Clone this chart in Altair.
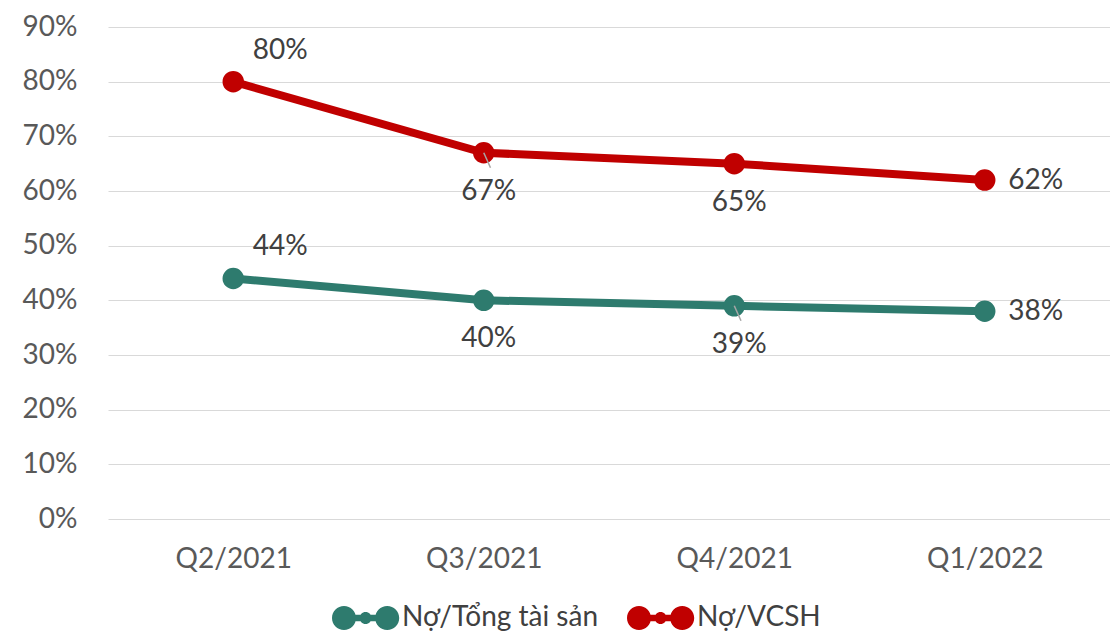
import altair as alt
import pandas as pd

categories = ["Q2/2021", "Q3/2021", "Q4/2021", "Q1/2022"]
series_names = ["Nợ/Tổng tài sản", "Nợ/VCSH"]
no_tong_tai_san = [0.44, 0.40, 0.39, 0.38]
no_vcsh = [0.80, 0.67, 0.65, 0.62]
colors = ["#2E7B6E", "#C00000"]

rows = []
for name, vals in zip(series_names, [no_tong_tai_san, no_vcsh]):
    for c, v in zip(categories, vals):
        rows.append({"quarter": c, "series": name, "value": v})
df = pd.DataFrame(rows)

FONT = "Lato"
FS = 28

# custom legend symbol: circle - line - dot - line - circle
sym = ("M -1 0 A 1 1 0 1 1 1 0 A 1 1 0 1 1 -1 0 Z "
       "M 2.6 0 A 1 1 0 1 1 4.6 0 A 1 1 0 1 1 2.6 0 Z "
       "M 0.8 -0.27 L 2.8 -0.27 L 2.8 0.27 L 0.8 0.27 Z "
       "M 1.3 0 A 0.5 0.5 0 1 1 2.3 0 A 0.5 0.5 0 1 1 1.3 0 Z")

x_enc = alt.X("quarter:N", sort=categories,
              scale=alt.Scale(type="point", padding=0.5),
              axis=alt.Axis(title=None, labelAngle=0, domain=False, ticks=False,
                            labelPadding=26, labelFontSize=FS, labelColor="#595959",
                            labelFont=FONT, grid=False))
y_enc = alt.Y("value:Q", scale=alt.Scale(domain=[0, 0.9], nice=False),
              axis=alt.Axis(title=None, format=".0%", values=[i / 10 for i in range(10)],
                            domain=False, ticks=False, labelPadding=31, labelFontSize=FS,
                            labelColor="#595959", labelFont=FONT, gridColor="#D9D9D9",
                            gridWidth=1))
color_enc = alt.Color("series:N", sort=series_names,
                      scale=alt.Scale(domain=series_names, range=colors),
                      legend=alt.Legend(title=None, orient="none", direction="horizontal",
                                        legendX=222, legendY=577, symbolType=sym,
                                        symbolSize=576, symbolStrokeWidth=0,
                                        symbolOpacity=1, labelFontSize=FS,
                                        labelFont=FONT, labelColor="#404040",
                                        labelOffset=44, columnPadding=27, labelLimit=0))

base = alt.Chart(df)
lines = base.mark_line(strokeWidth=8).encode(x=x_enc, y=y_enc, color=color_enc)
points = base.mark_point(filled=True, size=460, opacity=1).encode(x=x_enc, y=y_enc, color=color_enc)

leaders = base.mark_point(shape="M 0 0 L 0.45 1", size=900, filled=False,
                          stroke="#A6A6A6", strokeWidth=1.5, opacity=1).encode(
    x=x_enc, y=y_enc
).transform_filter(
    ((alt.datum.quarter == categories[1]) & (alt.datum.series == series_names[1])) |
    ((alt.datum.quarter == categories[2]) & (alt.datum.series == series_names[0]))
)

txt_kw = dict(fontSize=FS, font=FONT, color="#404040", baseline="middle", align="center")
lab_first = base.mark_text(dx=47, dy=-31, **txt_kw).encode(
    x=x_enc, y=y_enc, text=alt.Text("value:Q", format=".0%")
).transform_filter(alt.datum.quarter == categories[0])
lab_mid = base.mark_text(dx=5, dy=39, **txt_kw).encode(
    x=x_enc, y=y_enc, text=alt.Text("value:Q", format=".0%")
).transform_filter((alt.datum.quarter == categories[1]) | (alt.datum.quarter == categories[2]))
lab_last = base.mark_text(dx=51, dy=1, **txt_kw).encode(
    x=x_enc, y=y_enc, text=alt.Text("value:Q", format=".0%")
).transform_filter(alt.datum.quarter == categories[3])

chart = alt.layer(lines, points, leaders, lab_first, lab_mid, lab_last).properties(
    width=1002, height=492,
    autosize=alt.AutoSizeParams(type="none"),
    padding={"left": 100, "top": 19, "right": 0, "bottom": 113},
).configure_view(stroke=None).configure_legend(padding=0)

chart.save("out.html", embed_options={"renderer": "svg", "actions": False})
